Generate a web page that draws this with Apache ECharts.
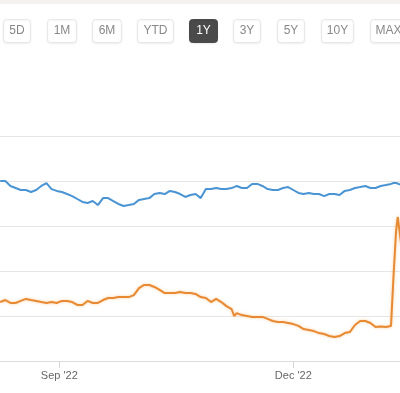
<!DOCTYPE html>
<html>
<head>
<meta charset="utf-8">
<script src="https://cdn.jsdelivr.net/npm/echarts@6/dist/echarts.min.js"></script>
<style>
html,body{margin:0;padding:0;background:#fff;}
#chart{width:400px;height:393px;}
</style>
</head>
<body>
<div id="chart"></div>
<script>
// ---- data ----
const dates = ['2022-08-09','2022-08-11','2022-08-13','2022-08-15','2022-08-17','2022-08-19','2022-08-21','2022-08-23','2022-08-25','2022-08-27','2022-08-29','2022-08-31',
'2022-09-02','2022-09-04','2022-09-06','2022-09-08','2022-09-10','2022-09-12','2022-09-14','2022-09-16','2022-09-18','2022-09-20','2022-09-22','2022-09-24','2022-09-26','2022-09-28','2022-09-30',
'2022-10-02','2022-10-04','2022-10-06','2022-10-08','2022-10-10','2022-10-12','2022-10-14','2022-10-16','2022-10-18','2022-10-20','2022-10-22','2022-10-24','2022-10-26','2022-10-28','2022-10-30',
'2022-11-01','2022-11-03','2022-11-05','2022-11-07','2022-11-08','2022-11-09','2022-11-11','2022-11-13','2022-11-15','2022-11-17','2022-11-19','2022-11-21','2022-11-23','2022-11-25','2022-11-27','2022-11-29',
'2022-12-01','2022-12-03','2022-12-05','2022-12-07','2022-12-09','2022-12-11','2022-12-13','2022-12-15','2022-12-17','2022-12-19','2022-12-21','2022-12-23','2022-12-25','2022-12-27','2022-12-29','2022-12-31',
'2023-01-02','2023-01-04','2023-01-06','2023-01-08','2023-01-09','2023-01-10','2023-01-10 15:00','2023-01-12'];

const blueSeries = [80.0,80.0,77.8,76.9,76.0,76.0,75.1,76.0,77.8,79.1,76.4,75.6,
75.1,74.2,73.3,72.0,70.7,70.2,71.1,69.3,72.4,72.4,71.1,69.8,68.9,69.3,69.8,
71.6,72.0,72.4,74.2,74.7,74.2,75.6,75.1,74.2,72.9,73.8,74.2,72.4,76.4,76.4,
76.9,76.4,76.4,76.9,77.3,77.8,76.9,76.9,78.7,78.7,77.8,76.4,76.0,76.0,76.9,77.3,
76.0,74.7,74.2,74.7,74.2,74.2,73.3,74.2,74.2,73.8,75.6,76.0,76.9,77.3,77.8,76.9,
76.9,77.8,78.2,78.7,79.1,79.1,78.7,78.2];

const orangeSeries = [26.2,27.1,25.8,25.8,26.7,27.6,27.1,26.7,26.2,25.8,26.2,25.8,
26.7,26.7,26.2,24.9,24.9,26.7,25.8,25.8,27.1,28.0,28.0,28.4,28.4,28.4,29.3,
32.4,33.8,33.8,32.9,31.6,30.2,30.2,30.2,30.7,30.2,30.2,29.8,28.4,28.0,26.2,
27.6,26.2,24.4,23.1,20.0,21.3,20.4,20.0,19.6,19.6,19.6,18.7,17.8,17.3,17.3,16.9,
16.4,15.6,14.2,13.8,13.3,12.4,12.0,11.1,10.7,11.1,12.4,12.9,16.0,17.8,17.8,16.9,
15.1,15.3,15.1,15.6,38.2,58.2,64.0,51.6];

const tickDates = ['2022-09-01','2022-12-01'];
const tickLabels = ["Sep '22","Dec '22"];
const rangeButtons = ['5D','1M','6M','YTD','1Y','3Y','5Y','10Y','MAX'];
const activeButton = '1Y';

// ---- layout (not data) ----
const btnLayout = [[3,27],[47,29],[92,29],[137,36],[189,28],[233,27],[277,27],[321,32],[370,36]];

const parse = s => echarts.time.parse(s).getTime();
const tickValues = tickDates.map(parse);

const graphics = [{type:'rect', shape:{x:0,y:0,width:400,height:4}, style:{fill:'#f4f1f1'}, silent:true}];
rangeButtons.forEach((lab,i)=>{
  const [x,w] = btnLayout[i];
  const act = lab === activeButton;
  graphics.push({type:'rect', shape:{x:x+0.5,y:19.5,width:w,height:23,r:3},
    style:{fill: act ? '#4a4a4a' : '#fff', stroke: act ? '#4a4a4a' : '#e8e8e8', lineWidth:1,
      shadowColor:'rgba(0,0,0,0.06)', shadowBlur:2, shadowOffsetY:1}, silent:true});
  graphics.push({type:'text', x:x+0.5+w/2, y:31,
    style:{text:lab, fill: act ? '#fff' : '#888', font:'12px "Liberation Sans", Arial, sans-serif', align:'center', verticalAlign:'middle'}, silent:true});
});

const chart = echarts.init(document.getElementById('chart'));
chart.setOption({
  animation:false,
  backgroundColor:'#fff',
  graphic: graphics,
  grid:{left:0,right:0,top:136,bottom:32,containLabel:false},
  xAxis:{
    type:'value',
    min: parse('2022-08-08 22:30'),
    max: parse('2023-01-11 12:00'),
    axisLine:{show:true, lineStyle:{color:'#dcdcdc', width:1}},
    axisTick:{show:true, length:7, lineStyle:{color:'#d5d5d5'}, customValues: tickValues},
    axisLabel:{show:true, customValues: tickValues, margin:9, color:'#666', fontSize:11,
      fontFamily:'"Liberation Sans", Arial, sans-serif',
      formatter: v => { const i = tickValues.indexOf(v); return i >= 0 ? tickLabels[i] : ''; }},
    splitLine:{show:false}
  },
  yAxis:{
    type:'value', min:0, max:100, interval:20,
    axisLine:{show:false}, axisTick:{show:false}, axisLabel:{show:false},
    splitLine:{show:true, lineStyle:{color:'#e6e6e6', width:1}}
  },
  series:[
    {type:'line', name:'blue', data: dates.map((d,i)=>[parse(d), blueSeries[i]]),
      showSymbol:false, symbol:'none', lineStyle:{color:'#4a94d4', width:2}, clip:true},
    {type:'line', name:'orange', data: dates.map((d,i)=>[parse(d), orangeSeries[i]]),
      showSymbol:false, symbol:'none', lineStyle:{color:'#e88a33', width:2, shadowColor:'rgba(245,170,80,0.55)', shadowBlur:3}, clip:true}
  ]
});
</script>
</body>
</html>
